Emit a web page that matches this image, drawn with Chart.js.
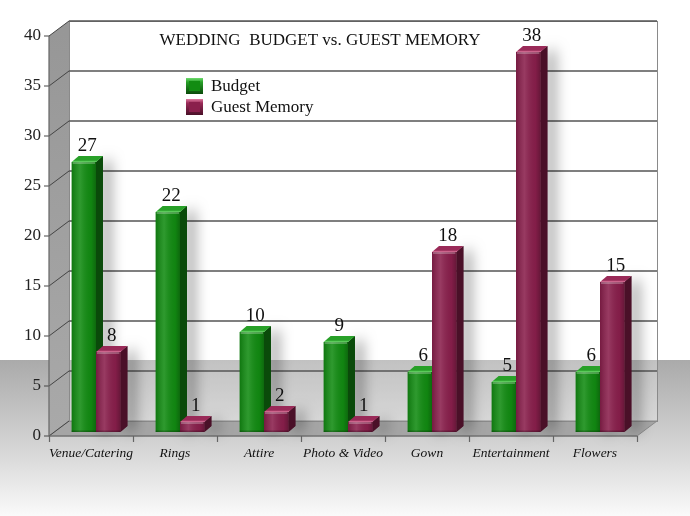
<!DOCTYPE html>
<html>
<head>
<meta charset="utf-8">
<script src="https://cdn.jsdelivr.net/npm/chart.js@4/dist/chart.umd.min.js"></script>
<style>
  html, body { margin: 0; padding: 0; background: #fff; }
  #wrap {
    width: 690px; height: 516px;
    background: linear-gradient(to bottom, #fff 0, #fff 360px, #aaaaaa 360px, #d6d6d6 450px, #fafafa 516px);
  }
  canvas { display: block; }
</style>
</head>
<body>
<div id="wrap"><canvas id="chart" width="690" height="516"></canvas></div>
<script>
// data
const categories = ['Venue/Catering', 'Rings', 'Attire', 'Photo & Video', 'Gown', 'Entertainment', 'Flowers'];
const budget = [27, 22, 10, 9, 6, 5, 6];
const guestMemory = [8, 1, 2, 1, 18, 38, 15];
const yTicks = [0, 5, 10, 15, 20, 25, 30, 35, 40];
const seriesNames = ['Budget', 'Guest Memory'];
const chartTitle = 'WEDDING  BUDGET vs. GUEST MEMORY';

// 3d offsets, relative to the plane the bars stand in
const FRONT = { x: -5, y: 4 };
const BACK = { x: 15, y: -11 };
const DEPTH = { x: 7, y: -6 };

const faces = [
  { front: '#128c12', side: '#0a4a0a', top: '#28a028', hi: '#6fdc6f' },
  { front: '#8a1f4c', side: '#4a1028', top: '#9a2a58', hi: '#e07aa0' }
];

const serif = '"Liberation Serif", "DejaVu Serif", serif';

function poly(ctx, pts) {
  ctx.beginPath();
  ctx.moveTo(pts[0][0], pts[0][1]);
  for (let i = 1; i < pts.length; i++) ctx.lineTo(pts[i][0], pts[i][1]);
  ctx.closePath();
}

const threeD = {
  id: 'threeD',
  beforeDatasetsDraw(chart) {
    const ctx = chart.ctx, xs = chart.scales.x, ys = chart.scales.y;
    const y0 = ys.getPixelForValue(0);
    const yTop = ys.getPixelForValue(yTicks[yTicks.length - 1]);
    const l = xs.left, r = xs.right;
    const n = categories.length, cw = (r - l) / n;
    ctx.save();

    // back wall
    ctx.fillStyle = 'rgba(255,255,255,0.28)';
    ctx.fillRect(l + BACK.x, yTop + BACK.y, r - l, y0 - yTop);

    // side wall
    const sg = ctx.createLinearGradient(0, yTop, 0, y0);
    sg.addColorStop(0, '#979797');
    sg.addColorStop(1, '#a9a9a9');
    ctx.fillStyle = sg;
    poly(ctx, [[l + FRONT.x, yTop + FRONT.y], [l + BACK.x, yTop + BACK.y], [l + BACK.x, y0 + BACK.y], [l + FRONT.x, y0 + FRONT.y]]);
    ctx.fill();

    // floor
    ctx.fillStyle = '#a5a5a5';
    poly(ctx, [[l + FRONT.x, y0 + FRONT.y], [r + FRONT.x, y0 + FRONT.y], [r + BACK.x, y0 + BACK.y], [l + BACK.x, y0 + BACK.y]]);
    ctx.fill();
    ctx.strokeStyle = '#8a8a8a';
    ctx.lineWidth = 1;
    ctx.stroke();

    // wall outline
    ctx.strokeRect(l + BACK.x + 0.5, yTop + BACK.y + 0.5, r - l, y0 - yTop);

    // gridlines + y ticks
    ctx.font = '17px ' + serif;
    ctx.fillStyle = '#222';
    ctx.textAlign = 'right';
    ctx.textBaseline = 'middle';
    yTicks.forEach(v => {
      const yp = Math.round(ys.getPixelForValue(v));
      ctx.strokeStyle = '#555';
      ctx.lineWidth = 1.3;
      if (v > 0) {
        ctx.beginPath();
        ctx.moveTo(l + BACK.x, yp + BACK.y);
        ctx.lineTo(r + BACK.x, yp + BACK.y);
        ctx.stroke();
      }
      ctx.lineWidth = 1;
      ctx.strokeStyle = '#444';
      ctx.beginPath();
      ctx.moveTo(l + FRONT.x, yp + FRONT.y);
      ctx.lineTo(l + BACK.x, yp + BACK.y);
      ctx.moveTo(l + FRONT.x - 5, yp + FRONT.y);
      ctx.lineTo(l + FRONT.x, yp + FRONT.y);
      ctx.stroke();
      ctx.fillText(String(v), l + FRONT.x - 8, yp + FRONT.y);
    });

    // front axes
    ctx.strokeStyle = '#666';
    ctx.lineWidth = 1.2;
    ctx.beginPath();
    ctx.moveTo(l + FRONT.x, yTop + FRONT.y);
    ctx.lineTo(l + FRONT.x, y0 + FRONT.y);
    ctx.lineTo(r + FRONT.x, y0 + FRONT.y);
    for (let i = 0; i <= n; i++) {
      const xp = Math.round(l + i * cw + FRONT.x) + 0.5;
      ctx.moveTo(xp, y0 + FRONT.y);
      ctx.lineTo(xp, y0 + FRONT.y + 6);
    }
    ctx.stroke();

    // x labels
    ctx.font = 'italic 13.5px ' + serif;
    ctx.fillStyle = '#111';
    ctx.textAlign = 'center';
    categories.forEach((c, i) => {
      ctx.fillText(c, xs.getPixelForValue(i) + FRONT.x, y0 + FRONT.y + 17);
    });

    // bar sides and tops (front faces come from Chart.js)
    chart.data.datasets.forEach((ds, di) => {
      const f = faces[di];
      chart.getDatasetMeta(di).data.forEach(el => {
        const p = el.getProps(['x', 'y', 'base', 'width'], true);
        const left = p.x - p.width / 2, right = p.x + p.width / 2;
        const side = [[right, p.y], [right + DEPTH.x, p.y + DEPTH.y], [right + DEPTH.x, p.base + DEPTH.y], [right, p.base]];
        ctx.save();
        ctx.shadowColor = 'rgba(0,0,0,0.5)';
        ctx.shadowBlur = 14;
        ctx.shadowOffsetX = 7;
        ctx.shadowOffsetY = 2;
        ctx.fillStyle = f.side;
        poly(ctx, side);
        ctx.fill();
        ctx.restore();
        ctx.fillStyle = f.side;
        poly(ctx, side);
        ctx.fill();
        const tg = ctx.createLinearGradient(0, p.y + DEPTH.y, 0, p.y);
        tg.addColorStop(0, f.top);
        tg.addColorStop(0.7, f.top);
        tg.addColorStop(1, f.hi);
        ctx.fillStyle = tg;
        poly(ctx, [[left, p.y], [right, p.y], [right + DEPTH.x, p.y + DEPTH.y], [left + DEPTH.x, p.y + DEPTH.y]]);
        ctx.fill();
      });
    });
    ctx.restore();
  },
  afterDatasetsDraw(chart) {
    const ctx = chart.ctx;
    ctx.save();
    chart.data.datasets.forEach((ds, di) => {
      chart.getDatasetMeta(di).data.forEach((el, i) => {
        const p = el.getProps(['x', 'y', 'base', 'width'], true);
        const left = p.x - p.width / 2;
        // shading on the front face
        const g = ctx.createLinearGradient(left, 0, left + p.width, 0);
        g.addColorStop(0, 'rgba(0,0,0,0.15)');
        g.addColorStop(0.35, 'rgba(255,255,255,0.12)');
        g.addColorStop(0.8, 'rgba(0,0,0,0.05)');
        g.addColorStop(1, 'rgba(0,0,0,0.25)');
        ctx.fillStyle = g;
        ctx.fillRect(left, p.y, p.width, p.base - p.y);
        ctx.fillStyle = 'rgba(255,255,255,0.25)';
        ctx.fillRect(left + 1, p.y, p.width - 2, Math.min(2, p.base - p.y));
        ctx.fillStyle = 'rgba(0,0,0,0.25)';
        ctx.fillRect(left, p.base - 1.5, p.width, 1.5);
        // value label
        ctx.fillStyle = '#111';
        ctx.font = '19px ' + serif;
        ctx.textAlign = 'center';
        ctx.textBaseline = 'alphabetic';
        ctx.fillText(String(ds.data[i]), p.x + DEPTH.x / 2, p.y + DEPTH.y - 5);
      });
    });
    ctx.restore();
  },
  afterDraw(chart) {
    const ctx = chart.ctx, a = chart.chartArea;
    ctx.save();
    ctx.fillStyle = '#111';
    ctx.font = '17px ' + serif;
    ctx.textAlign = 'center';
    ctx.textBaseline = 'middle';
    ctx.fillText(chartTitle, a.left + 266, 41);

    // legend
    ctx.textAlign = 'left';
    seriesNames.forEach((name, i) => {
      const x = a.left + 132, y = 78 + i * 21;
      const f = faces[i];
      const g = ctx.createLinearGradient(x, y, x, y + 16);
      g.addColorStop(0, f.hi);
      g.addColorStop(0.25, f.top);
      g.addColorStop(1, f.side);
      ctx.fillStyle = g;
      ctx.fillRect(x, y, 17, 16);
      ctx.fillStyle = f.front;
      ctx.fillRect(x + 3, y + 3, 11, 10);
      ctx.fillStyle = '#111';
      ctx.fillText(name, x + 25, y + 8.5);
    });
    ctx.restore();
  }
};

new Chart(document.getElementById('chart'), {
  type: 'bar',
  data: {
    labels: categories,
    datasets: [
      { label: seriesNames[0], data: budget, backgroundColor: faces[0].front },
      { label: seriesNames[1], data: guestMemory, backgroundColor: faces[1].front }
    ]
  },
  options: {
    responsive: false,
    animation: false,
    layout: { padding: { left: 54, right: 48, top: 32, bottom: 84 } },
    datasets: { bar: { categoryPercentage: 0.58, barPercentage: 1, borderWidth: 0 } },
    scales: {
      x: { display: false },
      y: { display: false, min: 0, max: 40 }
    },
    plugins: {
      legend: { display: false },
      title: { display: false },
      tooltip: { enabled: false }
    }
  },
  plugins: [threeD]
});
</script>
</body>
</html>
